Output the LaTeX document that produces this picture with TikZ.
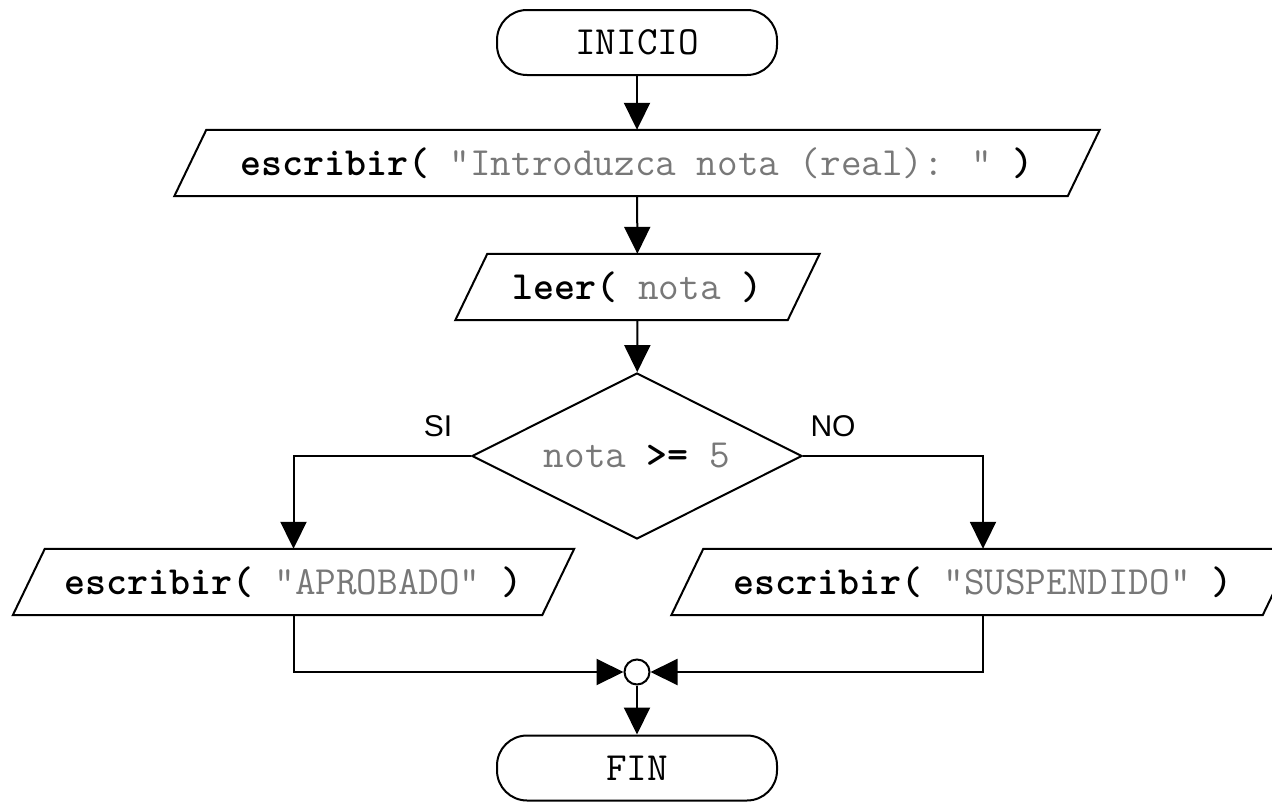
\documentclass[tikz,border=0pt]{standalone}
\usepackage{fontspec}
\setsansfont{Liberation Sans}
\usetikzlibrary{shapes.geometric,arrows.meta}

\definecolor{litgray}{RGB}{120,120,120}
\newcommand{\kw}[1]{\textbf{#1}}
\newcommand{\lit}[1]{\textcolor{litgray}{#1}}
% slanted outline for an input/output node (slant = 32pt)
\newcommand{\ioframe}[1]{%
  \draw[flow] ([xshift=16pt]#1.north west) -- ([xshift=16pt]#1.north east)
    -- ([xshift=-16pt]#1.south east) -- ([xshift=-16pt]#1.south west) -- cycle;}

\begin{document}
\begin{tikzpicture}[x=1pt,y=-1pt,
  flow/.style={line width=2pt, line join=miter},
  arr/.style={flow, -{Triangle[width=26pt,length=27pt]}},
  code/.style={font=\fontsize{40pt}{44pt}\selectfont\ttfamily, inner sep=0pt},
  terminal/.style={code, draw, flow, rounded corners=30pt,
    minimum width=280pt, minimum height=65pt},
  iobox/.style={code, rectangle, minimum height=66pt},
  decision/.style={code, diamond, aspect=2, draw, flow, minimum width=330pt,
    minimum height=166pt},
  junction/.style={circle, draw, flow, fill=white, minimum size=25pt, inner sep=0pt},
  branch/.style={font=\fontsize{30pt}{36pt}\selectfont\sffamily, inner sep=0pt}]

\useasboundingbox (0,0) rectangle (1272,803);

\node[terminal] (inicio) at (637,42.5) {INICIO};
\node[iobox, minimum width=893pt] (msg) at (637,163)
  {\kw{escribir(} \lit{"Introduzca nota (real): "} \kw{)}};
\node[iobox, minimum width=332pt] (leer) at (637.5,287)
  {\kw{leer(} \lit{nota} \kw{)}};
\node[decision] (dec) at (637,456) {\lit{nota} \kw{>=} \lit{5}};
\node[iobox, minimum width=529pt] (aprob) at (293.5,582)
  {\kw{escribir(} \lit{"APROBADO"} \kw{)}};
\node[iobox, minimum width=591pt] (susp) at (983,582)
  {\kw{escribir(} \lit{"SUSPENDIDO"} \kw{)}};
\node[junction] (join) at (637,672) {};
\node[terminal] (fin) at (637,768) {FIN};

\node[branch] (si) at (438,426) {SI};
\node[branch] (no) at (833,426) {NO};

\ioframe{msg}
\ioframe{leer}
\ioframe{aprob}
\ioframe{susp}

\draw[arr] (inicio) -- (msg);
\draw[arr] (msg) -- (leer);
\draw[arr] (leer) -- (dec);
\draw[arr] (dec.west) -| (aprob.north);
\draw[arr] (dec.east) -| (susp.north);
\draw[arr] (aprob.south) |- (join.west);
\draw[arr] (susp.south) |- (join.east);
\draw[arr] (join) -- (fin);
\end{tikzpicture}
\end{document}
